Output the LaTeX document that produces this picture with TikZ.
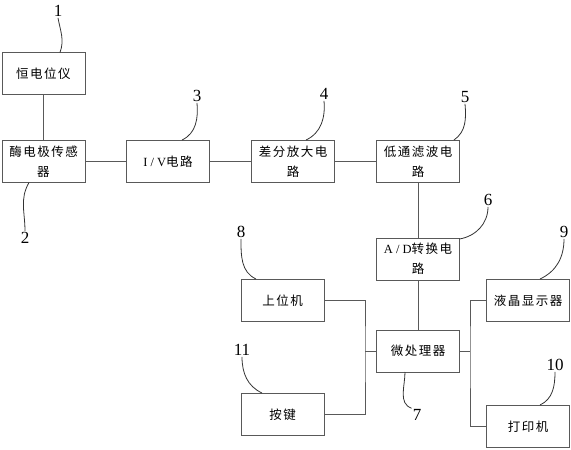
\documentclass[tikz,border=0pt]{standalone}
\usepackage{fontspec}
\setmainfont{Liberation Serif}
\newfontfamily\cjk[LetterSpace=12]{Noto Sans CJK SC}
\newfontfamily\lat[LetterSpace=25]{Liberation Serif}
\begin{document}
\begin{tikzpicture}[x=1pt,y=-1pt]
\tikzstyle{block} = [rectangle, draw=black!65, line width=0.9pt, minimum width=83pt, minimum height=42pt, inner sep=0pt, align=center, font=\fontsize{12.5}{20}\selectfont\cjk]
\tikzstyle{edge} = [draw=black!65, line width=0.9pt]
\tikzstyle{lead} = [draw=black!80, line width=0.8pt]
\tikzstyle{num} = [inner sep=1pt, font=\fontsize{17}{17}\selectfont]

\useasboundingbox (0,0) rectangle (571,450);

\node[block] (pot) at (43.5,73.5) {恒电位仪};
\node[block] (sensor) at (43.5,161.5) {酶电极传感\\器};
\node[block] (iv) at (168,161.5) {{\lat I/V}电路};
\node[block] (diff) at (293,161.5) {差分放大电\\路};
\node[block] (lpf) at (418,161.5) {低通滤波电\\路};
\node[block] (adc) at (418,259) {{\lat A/D}转换电\\路};
\node[block] (mcu) at (418,351) {微处理器};
\node[block] (host) at (282.5,300.5) {上位机};
\node[block] (keys) at (282.5,414.5) {按键};
\node[block] (lcd) at (528,300.5) {液晶显示器};
\node[block] (printer) at (528,426.5) {打印机};

\coordinate (busl) at (365,351);
\coordinate (busr) at (470,351);

\draw[edge] (pot) -- (sensor);
\draw[edge] (sensor) -- (iv);
\draw[edge] (iv) -- (diff);
\draw[edge] (diff) -- (lpf);
\draw[edge] (lpf) -- (adc);
\draw[edge] (adc) -- (mcu);
\draw[edge] (mcu.west) -- (busl);
\draw[edge] (host.east) -| (busl) |- (keys.east);
\draw[edge] (mcu.east) -- (busr);
\draw[edge] (lcd.west) -| (busr) |- (printer.west);

\node[num] (n1) at (58,11) {1};
\node[num] (n2) at (25,238) {2};
\node[num] (n3) at (197,96) {3};
\node[num] (n4) at (324,94) {4};
\node[num] (n5) at (465,97) {5};
\node[num] (n6) at (488,200) {6};
\node[num] (n7) at (417,415) {7};
\node[num] (n8) at (241,232) {8};
\node[num] (n9) at (564,232) {9};
\node[num] (n10) at (555,365) {10};
\node[num] (n11) at (242,350) {11};

\coordinate (c1) at (60,52.5);
\coordinate (c2) at (29,182.5);
\coordinate (c3) at (182,140);
\coordinate (c4) at (306,140);
\coordinate (c5) at (454,140);
\coordinate (c6) at (459.5,239);
\coordinate (c7) at (405,372);
\coordinate (c8) at (256,279);
\coordinate (c9) at (540,279);
\coordinate (c10) at (540,405);
\coordinate (c11) at (262,393);

\draw[lead] (n1.south) to[out=-80,in=70] (c1);
\draw[lead] (c2) to[out=-120,in=90] (n2.north);
\draw[lead] (n3.south) to[out=-85,in=25] (c3);
\draw[lead] (n4.south) to[out=-85,in=25] (c4);
\draw[lead] (n5.south) to[out=-85,in=35] (c5);
\draw[lead] (n6.south) to[out=-90,in=10] (c6);
\draw[lead] (c7) to[out=-90,in=160] (n7.north west);
\draw[lead] (n8.south) to[out=-90,in=155] (c8);
\draw[lead] (n9.south) to[out=-90,in=25] (c9);
\draw[lead] (n10.south) to[out=-90,in=25] (c10);
\draw[lead] (n11.south) to[out=-90,in=155] (c11);
\end{tikzpicture}
\end{document}
